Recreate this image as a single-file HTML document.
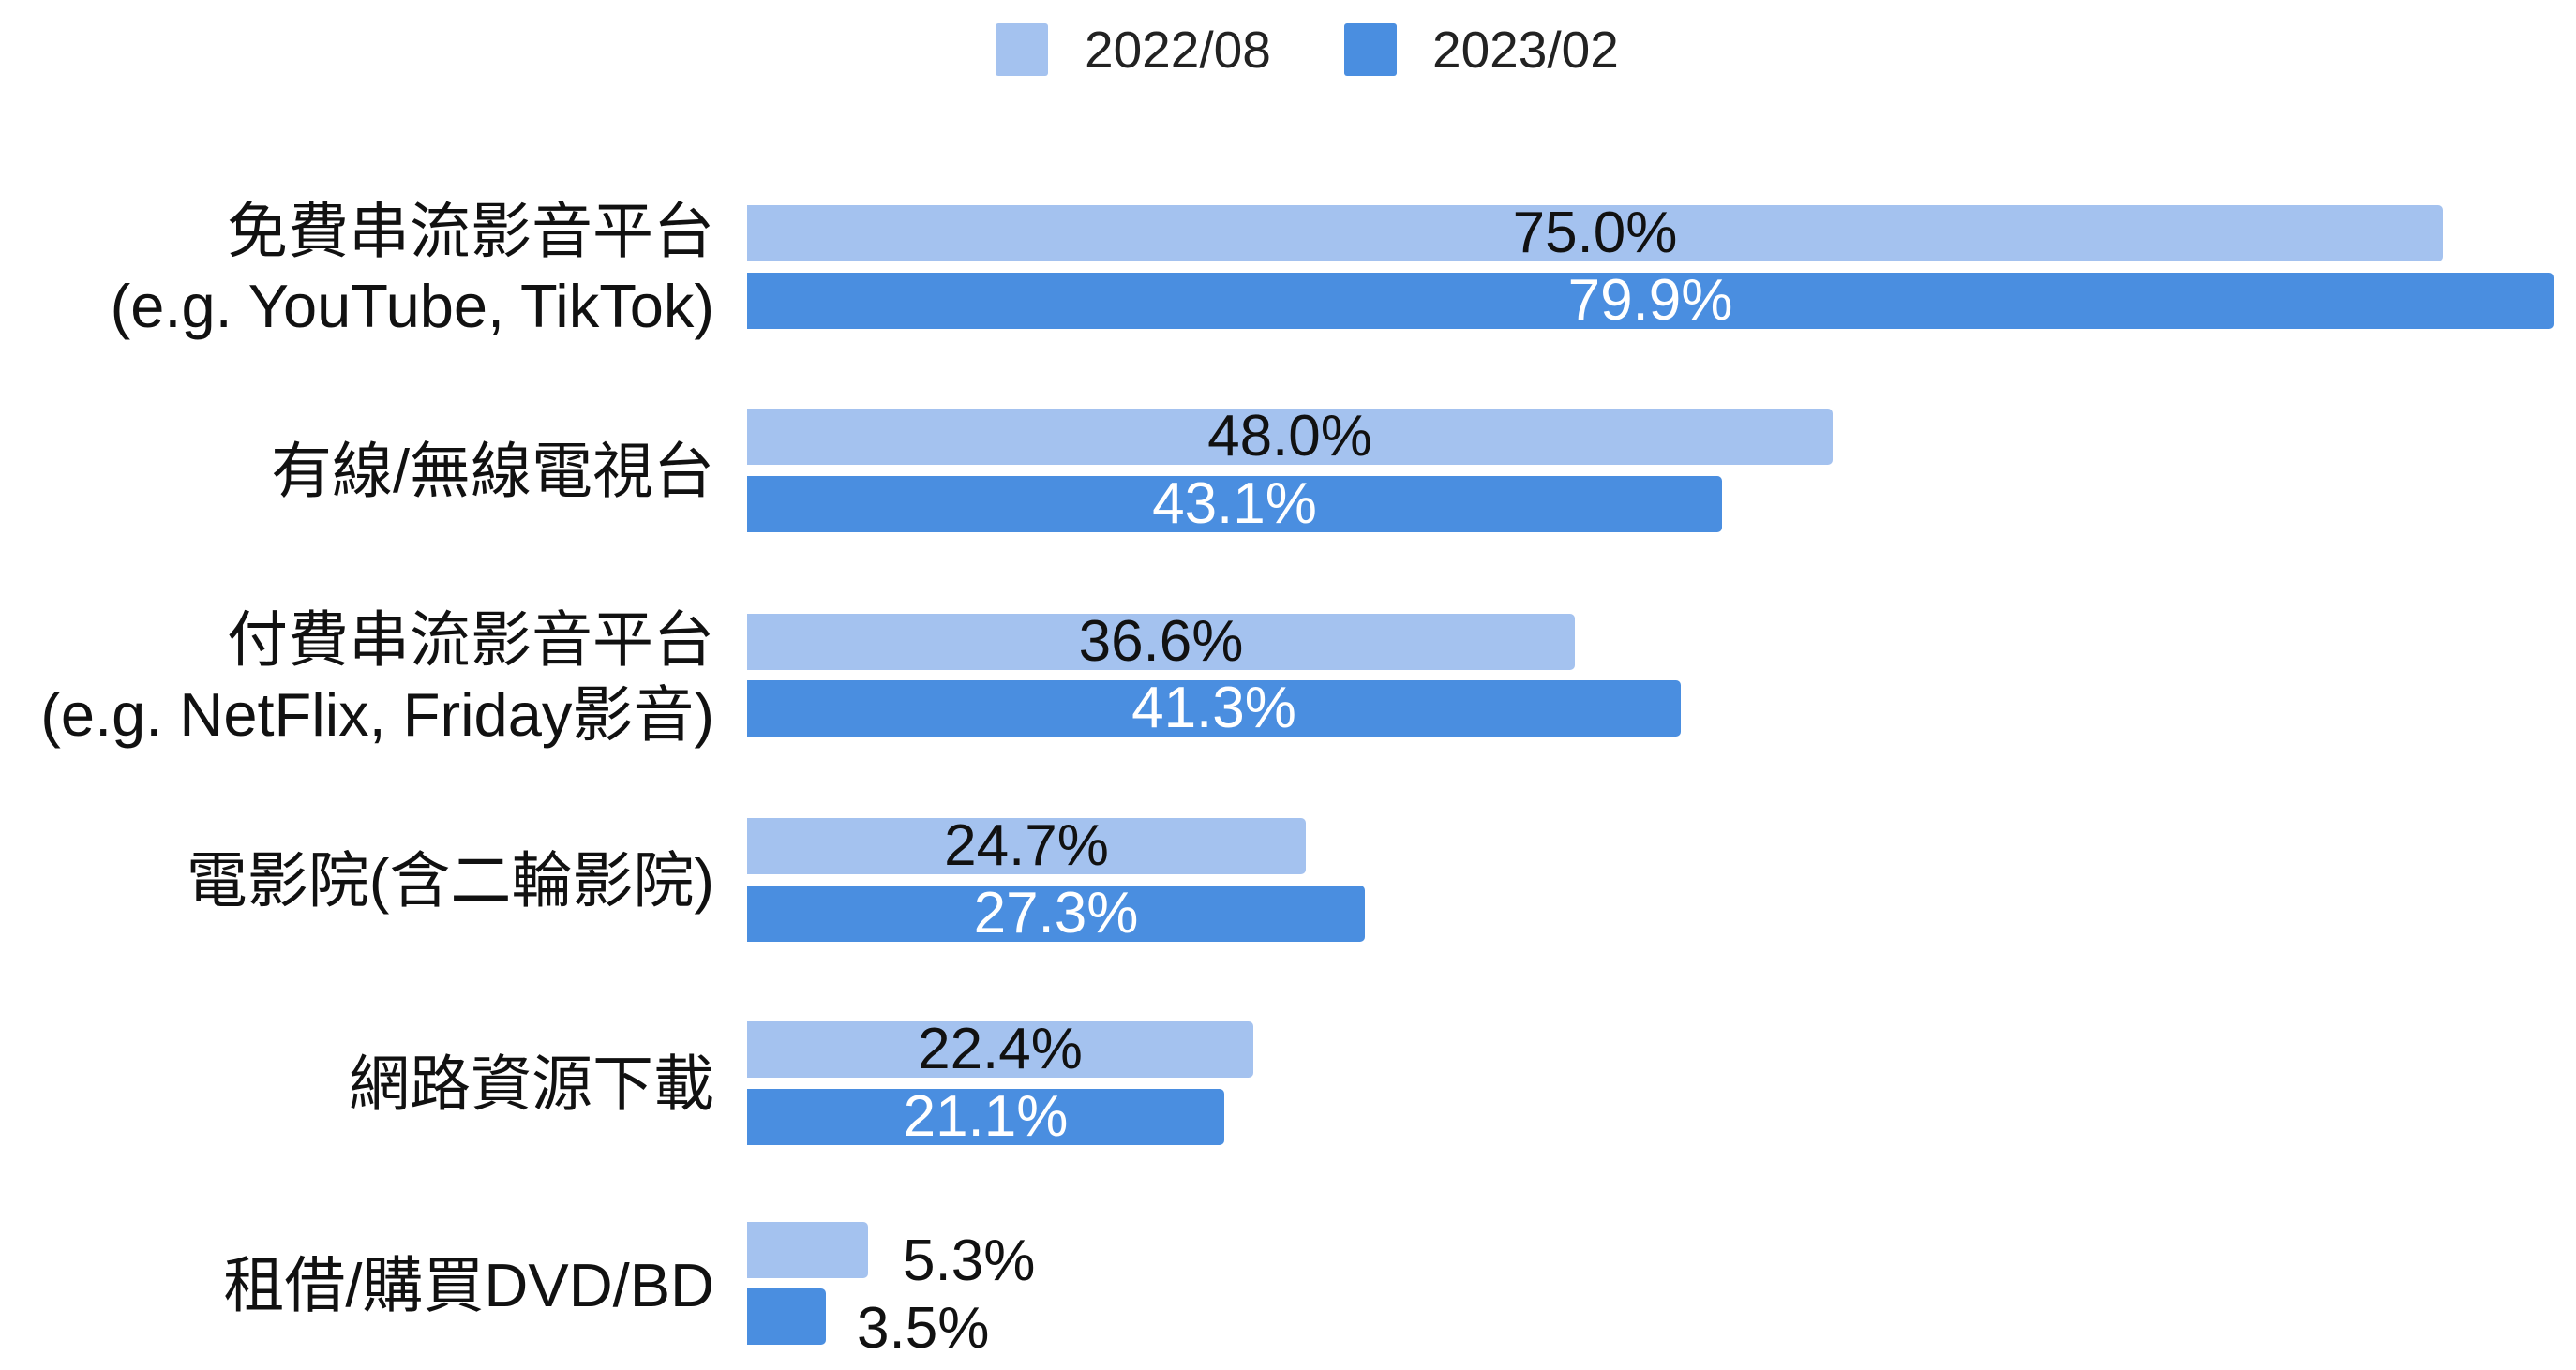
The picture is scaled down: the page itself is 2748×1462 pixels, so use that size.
<!DOCTYPE html>
<html><head><meta charset="utf-8"><style>
body{margin:0;width:2748px;height:1462px;background:#fff;position:relative;overflow:hidden;font-family:"Liberation Sans","Noto Sans CJK TC",sans-serif;}
.b{position:absolute;height:60px;border-radius:0 5px 5px 0;}
.l{background:#a4c2ef;}
.d{background:#4a8ee0;}
.v{position:absolute;font-size:62px;line-height:60px;white-space:nowrap;}
.lab{position:absolute;right:1986px;font-size:65px;text-align:right;white-space:nowrap;color:#111;line-height:80px;}
.sq{position:absolute;width:56px;height:56px;top:25px;border-radius:3px;}
.lg{position:absolute;top:22px;font-size:55px;line-height:62px;color:#222;}
</style></head><body>
<div class="sq l" style="left:1062px"></div><div class="lg" style="left:1157px">2022/08</div>
<div class="sq d" style="left:1434px"></div><div class="lg" style="left:1528px">2023/02</div>

<div class="lab" style="top:207px">免費串流影音平台<br>(e.g. YouTube, TikTok)</div>
<div class="lab" style="top:463px">有線/無線電視台</div>
<div class="lab" style="top:643px">付費串流影音平台<br>(e.g. NetFlix, Friday影音)</div>
<div class="lab" style="top:900px">電影院(含二輪影院)</div>
<div class="lab" style="top:1117px">網路資源下載</div>
<div class="lab" style="top:1332px">租借/購買DVD/BD</div>

<div class="b l" style="left:797px;top:219px;width:1809px"></div>
<div class="v" style="left:797px;width:1809px;top:219px;text-align:center;color:#111">75.0%</div>
<div class="b d" style="left:797px;top:291px;width:1927px"></div>
<div class="v" style="left:797px;width:1927px;top:291px;text-align:center;color:#fff">79.9%</div>

<div class="b l" style="left:797px;top:436px;width:1158px"></div>
<div class="v" style="left:797px;width:1158px;top:436px;text-align:center;color:#111">48.0%</div>
<div class="b d" style="left:797px;top:508px;width:1040px"></div>
<div class="v" style="left:797px;width:1040px;top:508px;text-align:center;color:#fff">43.1%</div>

<div class="b l" style="left:797px;top:655px;width:883px"></div>
<div class="v" style="left:797px;width:883px;top:655px;text-align:center;color:#111">36.6%</div>
<div class="b d" style="left:797px;top:726px;width:996px"></div>
<div class="v" style="left:797px;width:996px;top:726px;text-align:center;color:#fff">41.3%</div>

<div class="b l" style="left:797px;top:873px;width:596px"></div>
<div class="v" style="left:797px;width:596px;top:873px;text-align:center;color:#111">24.7%</div>
<div class="b d" style="left:797px;top:945px;width:659px"></div>
<div class="v" style="left:797px;width:659px;top:945px;text-align:center;color:#fff">27.3%</div>

<div class="b l" style="left:797px;top:1090px;width:540px"></div>
<div class="v" style="left:797px;width:540px;top:1090px;text-align:center;color:#111">22.4%</div>
<div class="b d" style="left:797px;top:1162px;width:509px"></div>
<div class="v" style="left:797px;width:509px;top:1162px;text-align:center;color:#fff">21.1%</div>

<div class="b l" style="left:797px;top:1304px;width:129px"></div>
<div class="v" style="left:963px;top:1316px;color:#111">5.3%</div>
<div class="b d" style="left:797px;top:1375px;width:84px"></div>
<div class="v" style="left:914px;top:1388px;color:#111">3.5%</div>
</body></html>
